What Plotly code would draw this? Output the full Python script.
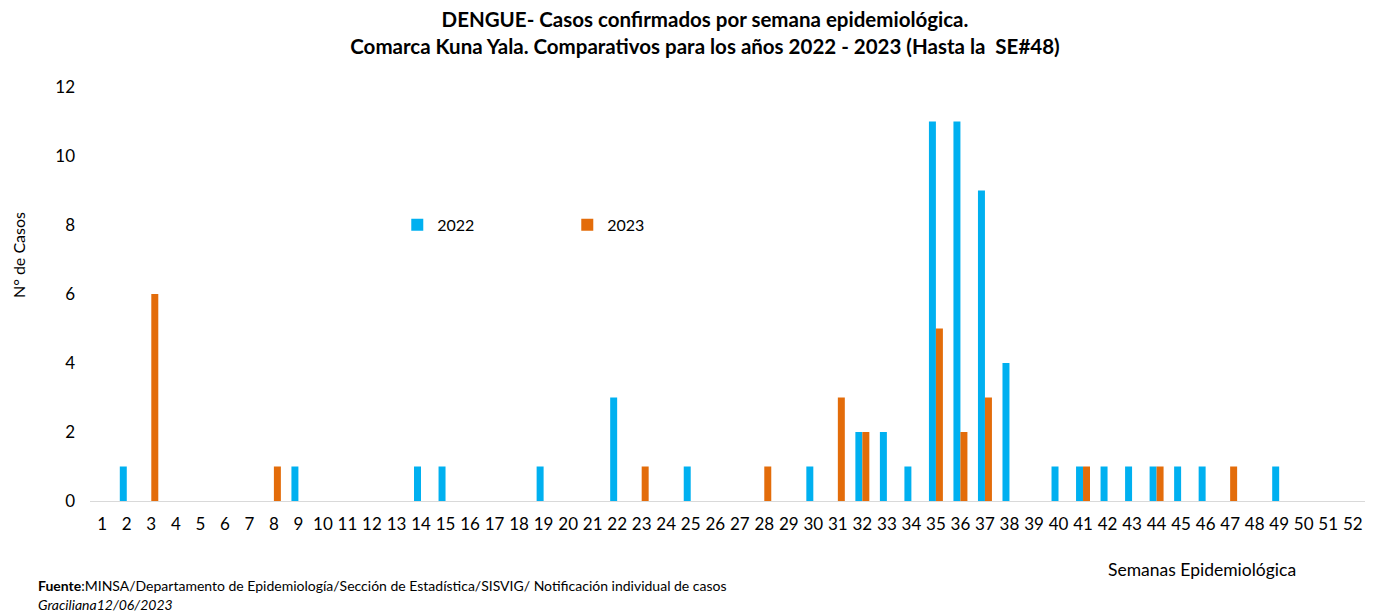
import plotly.graph_objects as go

weeks = list(range(1, 53))
cases_2022 = {2: 1, 9: 1, 14: 1, 15: 1, 19: 1, 22: 3, 25: 1, 30: 1, 32: 2, 33: 2, 34: 1,
              35: 11, 36: 11, 37: 9, 38: 4, 40: 1, 41: 1, 42: 1, 43: 1, 44: 1, 45: 1,
              46: 1, 49: 1}
cases_2023 = {3: 6, 8: 1, 23: 1, 28: 1, 31: 3, 32: 2, 35: 5, 36: 2, 37: 3, 41: 1, 44: 1, 47: 1}
y2022 = [cases_2022.get(w, 0) for w in weeks]
y2023 = [cases_2023.get(w, 0) for w in weeks]
y_ticks = [0, 2, 4, 6, 8, 10, 12]

FONT = "Lato"
fig = go.Figure()
fig.add_trace(go.Bar(x=weeks, y=y2022, name="2022", marker_color="#00B0F0",
                     marker_line_width=0))
fig.add_trace(go.Bar(x=weeks, y=y2023, name="2023", marker_color="#E36C0A",
                     marker_line_width=0))

fig.update_layout(
    width=1378, height=616,
    barmode="group", bargap=0.43, bargroupgap=0,
    plot_bgcolor="white", paper_bgcolor="white",
    margin=dict(l=90, r=13, t=87, b=115, autoexpand=False),
    font=dict(family=FONT, color="#000000", size=16),
    title=dict(
        text="<b>DENGUE- Casos confirmados por semana epidemiológica.</b><br><b>Comarca Kuna Yala. Comparativos para los años 2022 - 2023 (Hasta la  SE#48)</b>",
        x=0.5116, xanchor="center", y=0.956, yanchor="middle",
        font=dict(family=FONT, size=20.5, color="#000000"),
    ),
    legend=dict(orientation="h", x=0.241, xanchor="left", y=0.667, yanchor="middle",
                font=dict(family=FONT, size=16), entrywidth=125, itemwidth=30,
                bgcolor="rgba(0,0,0,0)"),
    xaxis=dict(
        tickmode="array", tickvals=weeks, ticktext=[str(w) for w in weeks],
        range=[0.5, 52.5], showgrid=False, showline=True, linecolor="#D9D9D9",
        linewidth=1, ticks="", tickfont=dict(size=17), zeroline=False,
        ticklabelstandoff=8,
    ),
    yaxis=dict(
        range=[0, 12], tickvals=y_ticks, showgrid=False, showline=False,
        zeroline=False, ticks="", tickfont=dict(size=17), ticklabelstandoff=14,
    ),
    annotations=[
        dict(text="N° de Casos", xref="paper", yref="paper",
             x=-0.0565, y=0.594, textangle=-90,
             xanchor="center", yanchor="middle", showarrow=False, font=dict(size=16)),
        dict(text="Semanas Epidemiológica", xref="paper", yref="paper",
             x=0.8725, y=-0.165, xanchor="center", yanchor="middle",
             showarrow=False, font=dict(size=17.5)),
        dict(text="<b>Fuente</b>:MINSA/Departamento de Epidemiología/Sección de Estadística/SISVIG/ Notificación individual de casos",
             xref="paper", yref="paper", x=-0.042, y=-0.203, xanchor="left",
             yanchor="middle", showarrow=False, font=dict(size=14)),
        dict(text="<i>Graciliana12/06/2023</i>",
             xref="paper", yref="paper", x=-0.042, y=-0.251, xanchor="left",
             yanchor="middle", showarrow=False, font=dict(size=14)),
    ],
)

fig.write_html("out.html", config={"displayModeBar": False},
               post_script="document.body.style.margin='0';")
